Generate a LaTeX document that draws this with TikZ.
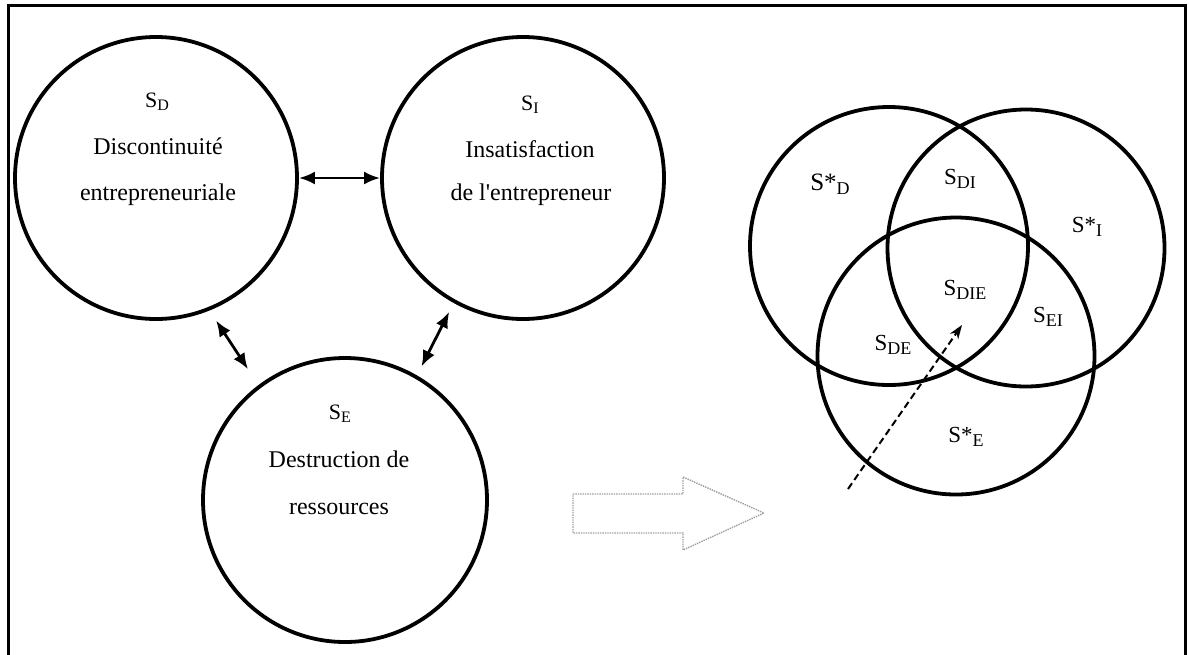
\documentclass[tikz,border=0pt]{standalone}
\usepackage{fontspec}
\setmainfont{Liberation Serif}
\usetikzlibrary{arrows.meta}
\newcommand{\Sx}[5]{{\fontsize{#1pt}{#1pt}\selectfont #2}\raisebox{-#5pt}{\fontsize{#3pt}{#3pt}\selectfont #4}}
\tikzset{
  bigcirc/.style={circle, draw, line width=3.8pt, inner sep=0pt, minimum size=#1},
  txt/.style={anchor=base, inner sep=0pt, font=\fontsize{24pt}{24pt}\selectfont},
  lbl/.style={anchor=base, inner sep=0pt},
  dbl/.style={line width=2.8pt, {Latex[length=16pt,width=13pt]}-{Latex[length=16pt,width=13pt]}},
  frame/.style={line width=3pt},
  blockarrow/.style={draw=gray!75, densely dotted, line width=1.4pt},
  dasharrow/.style={dash pattern=on 7pt off 4pt, line width=2pt, -{Stealth[length=14pt,width=10pt]}}
}
\begin{document}
\begin{tikzpicture}[x=1pt,y=-1pt]
\useasboundingbox (0,0) rectangle (1189,654);
\fill[white] (0,0) rectangle (1189,654);
% frame (open at the bottom)
\draw[frame] (8.5,700) -- (8.5,5.5) -- (1185.5,5.5) -- (1185.5,700);

% left group
\node[bigcirc=282pt] (D) at (156,178) {};
\node[bigcirc=282pt] (I) at (523,178) {};
\node[bigcirc=284pt] (E) at (345,500) {};

\node[lbl] (sd) at (157,107) {\Sx{22}{S}{16}{D}{3.5}};
\node[txt] (d1) at (158,154) {Discontinuité};
\node[txt] (d2) at (158,200) {entrepreneuriale};

\node[lbl] (si) at (530,110) {\Sx{22}{S}{16}{I}{3.5}};
\node[txt] (i1) at (530,157) {Insatisfaction};
\node[txt] (i2) at (531,200) {de l\textquotesingle entrepreneur};

\node[lbl] (se) at (340,419) {\Sx{22}{S}{16}{E}{3.5}};
\node[txt] (e1) at (339,467) {Destruction de};
\node[txt] (e2) at (339,514) {ressources};

\draw[dbl] (D.east) -- (I.west);
\draw[dbl, shorten <=12pt, shorten >=19pt] (D.292) -- (E.127);
\draw[dbl, shorten <=10pt, shorten >=10pt] (I.241) -- (E.60);

% block arrow
\draw[blockarrow] (573,494) -- (683,494) -- (683,477) -- (764,513) -- (683,550) -- (683,533) -- (573,533) -- cycle;

% Venn diagram
\node[bigcirc=278pt] (VD) at (889,246) {};
\node[bigcirc=277pt] (VI) at (1026,248) {};
\node[bigcirc=277pt] (VE) at (956,356) {};

\node[lbl] (sD) at (830,190) {\Sx{25}{S*}{18}{D}{4}};
\node[lbl] (sDI) at (960,184) {\Sx{23}{S}{18}{DI}{4}};
\node[lbl] (sI) at (1087,232) {\Sx{23}{S*}{18}{I}{4}};
\node[lbl] (sDIE) at (965,295) {\Sx{23}{S}{18}{DIE}{4}};
\node[lbl] (sEI) at (1048,322) {\Sx{23}{S}{18}{EI}{4}};
\node[lbl] (sDE) at (893,350) {\Sx{23}{S}{18}{DE}{4}};
\node[lbl] (sE) at (966,442) {\Sx{23}{S*}{18}{E}{4}};

\coordinate (p0) at (848,489);
\coordinate (p1) at (962,325);
\draw[dasharrow] (p0) -- (p1);
\end{tikzpicture}
\end{document}
